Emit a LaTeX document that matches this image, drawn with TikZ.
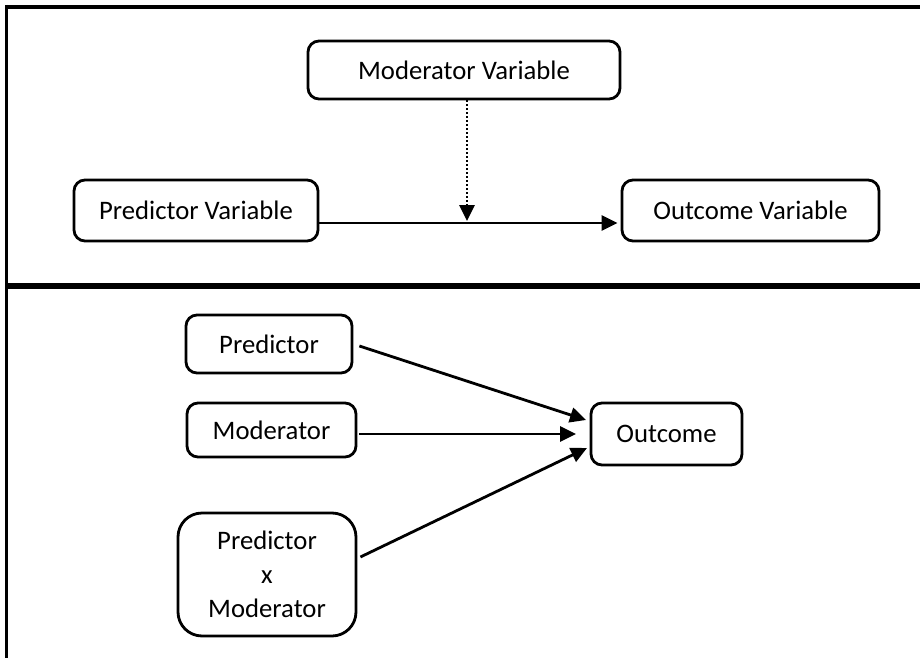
\documentclass[tikz,border=0pt]{standalone}
\usepackage{fontspec}
\setmainfont{Carlito}
\usetikzlibrary{arrows.meta,calc}
\begin{document}
\begin{tikzpicture}[x=1pt,y=-1pt,
  box/.style={draw, line width=2.8pt, rounded corners=11pt, inner sep=0pt, align=center, font=\fontsize{26.7}{34}\selectfont},
  arr/.style={line width=2.8pt, -{Triangle[length=16pt,width=15pt]}}]
\useasboundingbox (0,0) rectangle (920,658);
% frame
\draw[line width=4pt] (5,7) -- (920,7);
\draw[line width=3pt] (6.5,5) -- (6.5,658);
\draw[line width=6pt] (6.5,286) -- (920,286);
% top panel
\node[box, minimum width=312pt, minimum height=58pt] (modv) at (464,70) {Moderator Variable};
\node[box, minimum width=244pt, minimum height=61pt] (predv) at (196,210.5) {Predictor Variable};
\node[box, minimum width=257pt, minimum height=61pt] (outv) at (750.5,210.5) {Outcome Variable};
\coordinate (dm) at (467,221);
\draw[arr] ([yshift=-12.5pt]predv.east) -- ([yshift=-12.5pt,xshift=-3pt]outv.west);
\draw[arr, dash pattern=on 2pt off 2pt] ([xshift=3pt]modv.south) -- (dm);
% bottom panel
\node[box, minimum width=166pt, minimum height=58pt] (pred) at (269,344) {Predictor};
\node[box, minimum width=169pt, minimum height=54pt] (mod) at (271.5,430) {Moderator};
\node[box, rounded corners=24pt, minimum width=178pt, minimum height=123pt] (pxm) at (267,574.5) {Predictor\\x\\Moderator};
\node[box, minimum width=151pt, minimum height=62pt] (out) at (666.5,434) {Outcome};
\coordinate (t1) at (586,420);
\coordinate (t2) at (576,434);
\coordinate (t3) at (587,448);
\draw[arr] ([xshift=6pt,yshift=-2pt]pred.east) -- (t1);
\draw[arr] ([xshift=2pt,yshift=-4pt]mod.east) -- (t2);
\draw[arr] ([xshift=3pt,yshift=17.5pt]pxm.east) -- (t3);
\end{tikzpicture}
\end{document}
